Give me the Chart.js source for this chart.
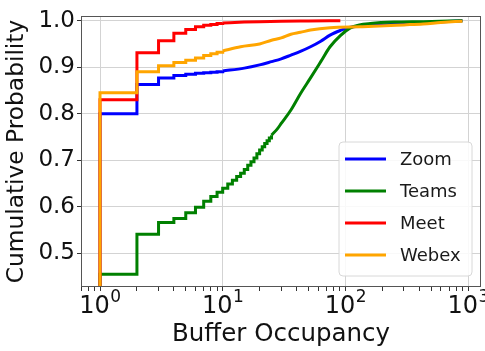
<!DOCTYPE html>
<html>
<head>
<meta charset="utf-8">
<script src="https://cdn.jsdelivr.net/npm/chart.js@4.4.1/dist/chart.umd.min.js"></script>
<style>
html,body{margin:0;padding:0;background:#fff;}
#wrap{width:485px;height:351px;position:relative;}
</style>
</head>
<body>
<div id="wrap"><canvas id="c" width="485" height="351"></canvas></div>
<script>
// ---- data ----
const seriesNames  = ['Zoom', 'Teams', 'Meet', 'Webex'];
const seriesColors = ['#0000ff', '#008000', '#ff0000', '#ffa500'];

const cdfStart = 0;                       // ECDF value before the first observation
const stepX      = [1, 2, 3, 4, 5, 6, 7, 8, 9, 10];
const teamsStepX = [1, 2, 3, 4, 5, 6, 7, 8, 9, 10, 11, 12, 13, 14, 15, 16, 17, 18, 19, 20, 21, 22, 23, 24, 25];

const zoomStepY  = [0.800, 0.863, 0.877, 0.882, 0.885, 0.887, 0.888, 0.889, 0.890, 0.892];
const zoomTailX  = [10, 15, 20, 25, 30, 36, 43, 52, 63, 75, 91, 103, 117, 150, 200, 400, 900];
const zoomTailY  = [0.892, 0.898, 0.905, 0.912, 0.918, 0.926, 0.934, 0.944, 0.956, 0.969, 0.979, 0.984, 0.987, 0.989, 0.991, 0.995, 1.000];

const teamsStepY = [0.455, 0.541, 0.566, 0.575, 0.587, 0.599, 0.612, 0.622, 0.631, 0.640, 0.649, 0.657, 0.665, 0.672, 0.680, 0.689, 0.697, 0.705, 0.714, 0.722, 0.729, 0.736, 0.742, 0.748, 0.754];
const teamsTailX = [25, 28, 30, 36, 43, 52, 63, 75, 91, 109, 130, 160, 250, 430, 900];
const teamsTailY = [0.754, 0.768, 0.779, 0.808, 0.843, 0.877, 0.912, 0.944, 0.968, 0.984, 0.991, 0.994, 0.997, 0.998, 1.000];

const meetStepY  = [0.830, 0.931, 0.957, 0.973, 0.981, 0.987, 0.990, 0.992, 0.994, 0.995];
const meetTailX  = [10, 15, 20, 30, 50, 91];
const meetTailY  = [0.995, 0.997, 0.998, 0.999, 0.9995, 1.000];

const webexStepY = [0.845, 0.890, 0.903, 0.910, 0.915, 0.920, 0.925, 0.929, 0.932, 0.935];
const webexTailX = [10, 14, 20, 25, 30, 36, 43, 52, 75, 132, 170, 300, 430, 600, 900];
const webexTailY = [0.935, 0.944, 0.950, 0.958, 0.963, 0.971, 0.975, 0.980, 0.985, 0.987, 0.988, 0.991, 0.993, 0.996, 0.999];

const yTicks        = [0.5, 0.6, 0.7, 0.8, 0.9, 1.0];
const yTickLabels   = ['0.5', '0.6', '0.7', '0.8', '0.9', '1.0'];
const xMajorTicks   = [1, 10, 100, 1000];
const xTickBase     = '10';
const xTickExps     = ['0', '1', '2', '3'];
const xTitle = 'Buffer Occupancy';
const yTitle = 'Cumulative Probability';

// ---- build datasets ----
function stepPoints(xs, ys) {
  const pts = [{x: xs[0], y: cdfStart}];
  xs.forEach((x, i) => pts.push({x: x, y: ys[i]}));
  return pts;
}
function tailPoints(xs, ys) { return xs.map((x, i) => ({x: x, y: ys[i]})); }

const stepSets = [
  [stepX, zoomStepY, zoomTailX, zoomTailY],
  [teamsStepX, teamsStepY, teamsTailX, teamsTailY],
  [stepX, meetStepY, meetTailX, meetTailY],
  [stepX, webexStepY, webexTailX, webexTailY]
];
const datasets = [];
stepSets.forEach((s, i) => {
  const common = {borderColor: seriesColors[i], backgroundColor: seriesColors[i], borderWidth: 3,
                  pointRadius: 0, fill: false, order: 4 - i, borderJoinStyle: 'miter'};
  datasets.push(Object.assign({label: seriesNames[i], data: stepPoints(s[0], s[1]), stepped: 'before', tension: 0}, common));
  datasets.push(Object.assign({label: seriesNames[i] + ' tail', data: tailPoints(s[2], s[3]), cubicInterpolationMode: 'monotone', borderJoinStyle: 'round'}, common, {borderJoinStyle: 'round'}));
});

// minor log ticks (2..9 x 10^k) + majors
const xAllTicks = [];
[0.1, 1, 10, 100, 1000].forEach(d => { for (let k = 1; k <= 9; k++) xAllTicks.push(+(k * d).toPrecision(3)); });

const FONT = 'DejaVu Sans';
const gridColor = '#d3d3d3';
const axisInk = '#333333';
const textInk = '#111111';

const framePlugin = {
  id: 'frame',
  afterDatasetsDraw(chart) {
    const {ctx, chartArea: a} = chart;
    ctx.save();
    ctx.strokeStyle = '#555555';
    ctx.lineWidth = 1;
    ctx.strokeRect(Math.round(a.left) + 0.5, Math.round(a.top) + 0.5, Math.round(a.right - a.left) - 1, Math.round(a.bottom - a.top) - 1);
    ctx.restore();
  }
};

// x tick labels written as base + raised exponent (like 10^0)
const xLabelPlugin = {
  id: 'xlabels',
  afterDraw(chart) {
    const {ctx, chartArea: a} = chart;
    const xs = chart.scales.x;
    ctx.save();
    ctx.fillStyle = textInk;
    ctx.textBaseline = 'alphabetic';
    ctx.textAlign = 'left';
    const baseFont = '24px "' + FONT + '"', expFont = '17px "' + FONT + '"';
    xMajorTicks.forEach((v, i) => {
      const px = xs.getPixelForValue(v);
      ctx.font = baseFont; const w1 = ctx.measureText(xTickBase).width;
      ctx.font = expFont;  const w2 = ctx.measureText(xTickExps[i]).width;
      const x0 = px - (w1 + w2) / 2;
      const baseY = a.bottom + 26;
      ctx.font = baseFont; ctx.fillText(xTickBase, x0, baseY);
      ctx.font = expFont;  ctx.fillText(xTickExps[i], x0 + w1 + 0.5, baseY - 11.5);
    });
    ctx.restore();
  }
};

const legendPlugin = {
  id: 'inlegend',
  afterDraw(chart) {
    const {ctx, chartArea: a} = chart;
    const w = 133, h = 134;
    const x0 = a.right - 9 - w, y0 = a.bottom - 11 - h;
    ctx.save();
    ctx.beginPath();
    const r = 4;
    ctx.moveTo(x0 + r, y0);
    ctx.arcTo(x0 + w, y0, x0 + w, y0 + h, r);
    ctx.arcTo(x0 + w, y0 + h, x0, y0 + h, r);
    ctx.arcTo(x0, y0 + h, x0, y0, r);
    ctx.arcTo(x0, y0, x0 + w, y0, r);
    ctx.closePath();
    ctx.fillStyle = 'rgba(255,255,255,0.85)';
    ctx.fill();
    ctx.strokeStyle = '#d8d8d8';
    ctx.lineWidth = 1;
    ctx.stroke();
    ctx.font = '18px "' + FONT + '"';
    ctx.textBaseline = 'middle';
    ctx.textAlign = 'left';
    seriesNames.forEach((name, i) => {
      const cy = y0 + 17 + i * 32;
      ctx.strokeStyle = seriesColors[i];
      ctx.lineWidth = 3;
      ctx.beginPath();
      ctx.moveTo(x0 + 6, cy);
      ctx.lineTo(x0 + 47, cy);
      ctx.stroke();
      ctx.fillStyle = '#1a1a1a';
      ctx.fillText(name, x0 + 61, cy + 1);
    });
    ctx.restore();
  }
};

new Chart(document.getElementById('c'), {
  type: 'line',
  data: {datasets: datasets},
  plugins: [framePlugin, xLabelPlugin, legendPlugin],
  options: {
    responsive: false,
    devicePixelRatio: 1,
    animation: false,
    events: [],
    layout: {padding: {left: 0, right: 4, top: 16, bottom: 0}},
    plugins: {legend: {display: false}, tooltip: {enabled: false}},
    scales: {
      x: {
        type: 'logarithmic',
        min: 0.714, max: 1275,
        afterBuildTicks(scale) {
          scale.ticks = xAllTicks.filter(v => v >= scale.min && v <= scale.max).map(v => ({value: v, major: xMajorTicks.includes(v)}));
        },
        afterFit(scale) { scale.height = 64; scale.paddingLeft = 0; scale.paddingRight = 0; },
        ticks: {
          autoSkip: false, maxRotation: 0, minRotation: 0, padding: 1,
          color: textInk, font: {family: FONT, size: 23},
          callback() { return ''; }
        },
        grid: {
          color: ctx => (ctx.tick && xMajorTicks.includes(ctx.tick.value)) ? gridColor : 'rgba(0,0,0,0)',
          tickColor: axisInk, tickLength: 4, lineWidth: 1
        },
        border: {display: false},
        title: {display: true, text: xTitle, color: textInk, font: {family: FONT, size: 24.5}, padding: {top: 0, bottom: 2}}
      },
      y: {
        type: 'linear',
        min: 0.4275, max: 1.0101,
        afterBuildTicks(scale) { scale.ticks = yTicks.map(v => ({value: v})); },
        afterFit(scale) { scale.width = 81; },
        ticks: {
          padding: 2, color: textInk, font: {family: FONT, size: 23},
          callback(value) { const i = yTicks.findIndex(t => Math.abs(t - value) < 1e-9); return i >= 0 ? yTickLabels[i] : ''; }
        },
        grid: {color: gridColor, tickColor: axisInk, tickLength: 4, lineWidth: 1},
        border: {display: false},
        title: {display: true, text: yTitle, color: textInk, font: {family: FONT, size: 23.3}, padding: {top: 3, bottom: 0}}
      }
    }
  }
});
</script>
</body>
</html>
